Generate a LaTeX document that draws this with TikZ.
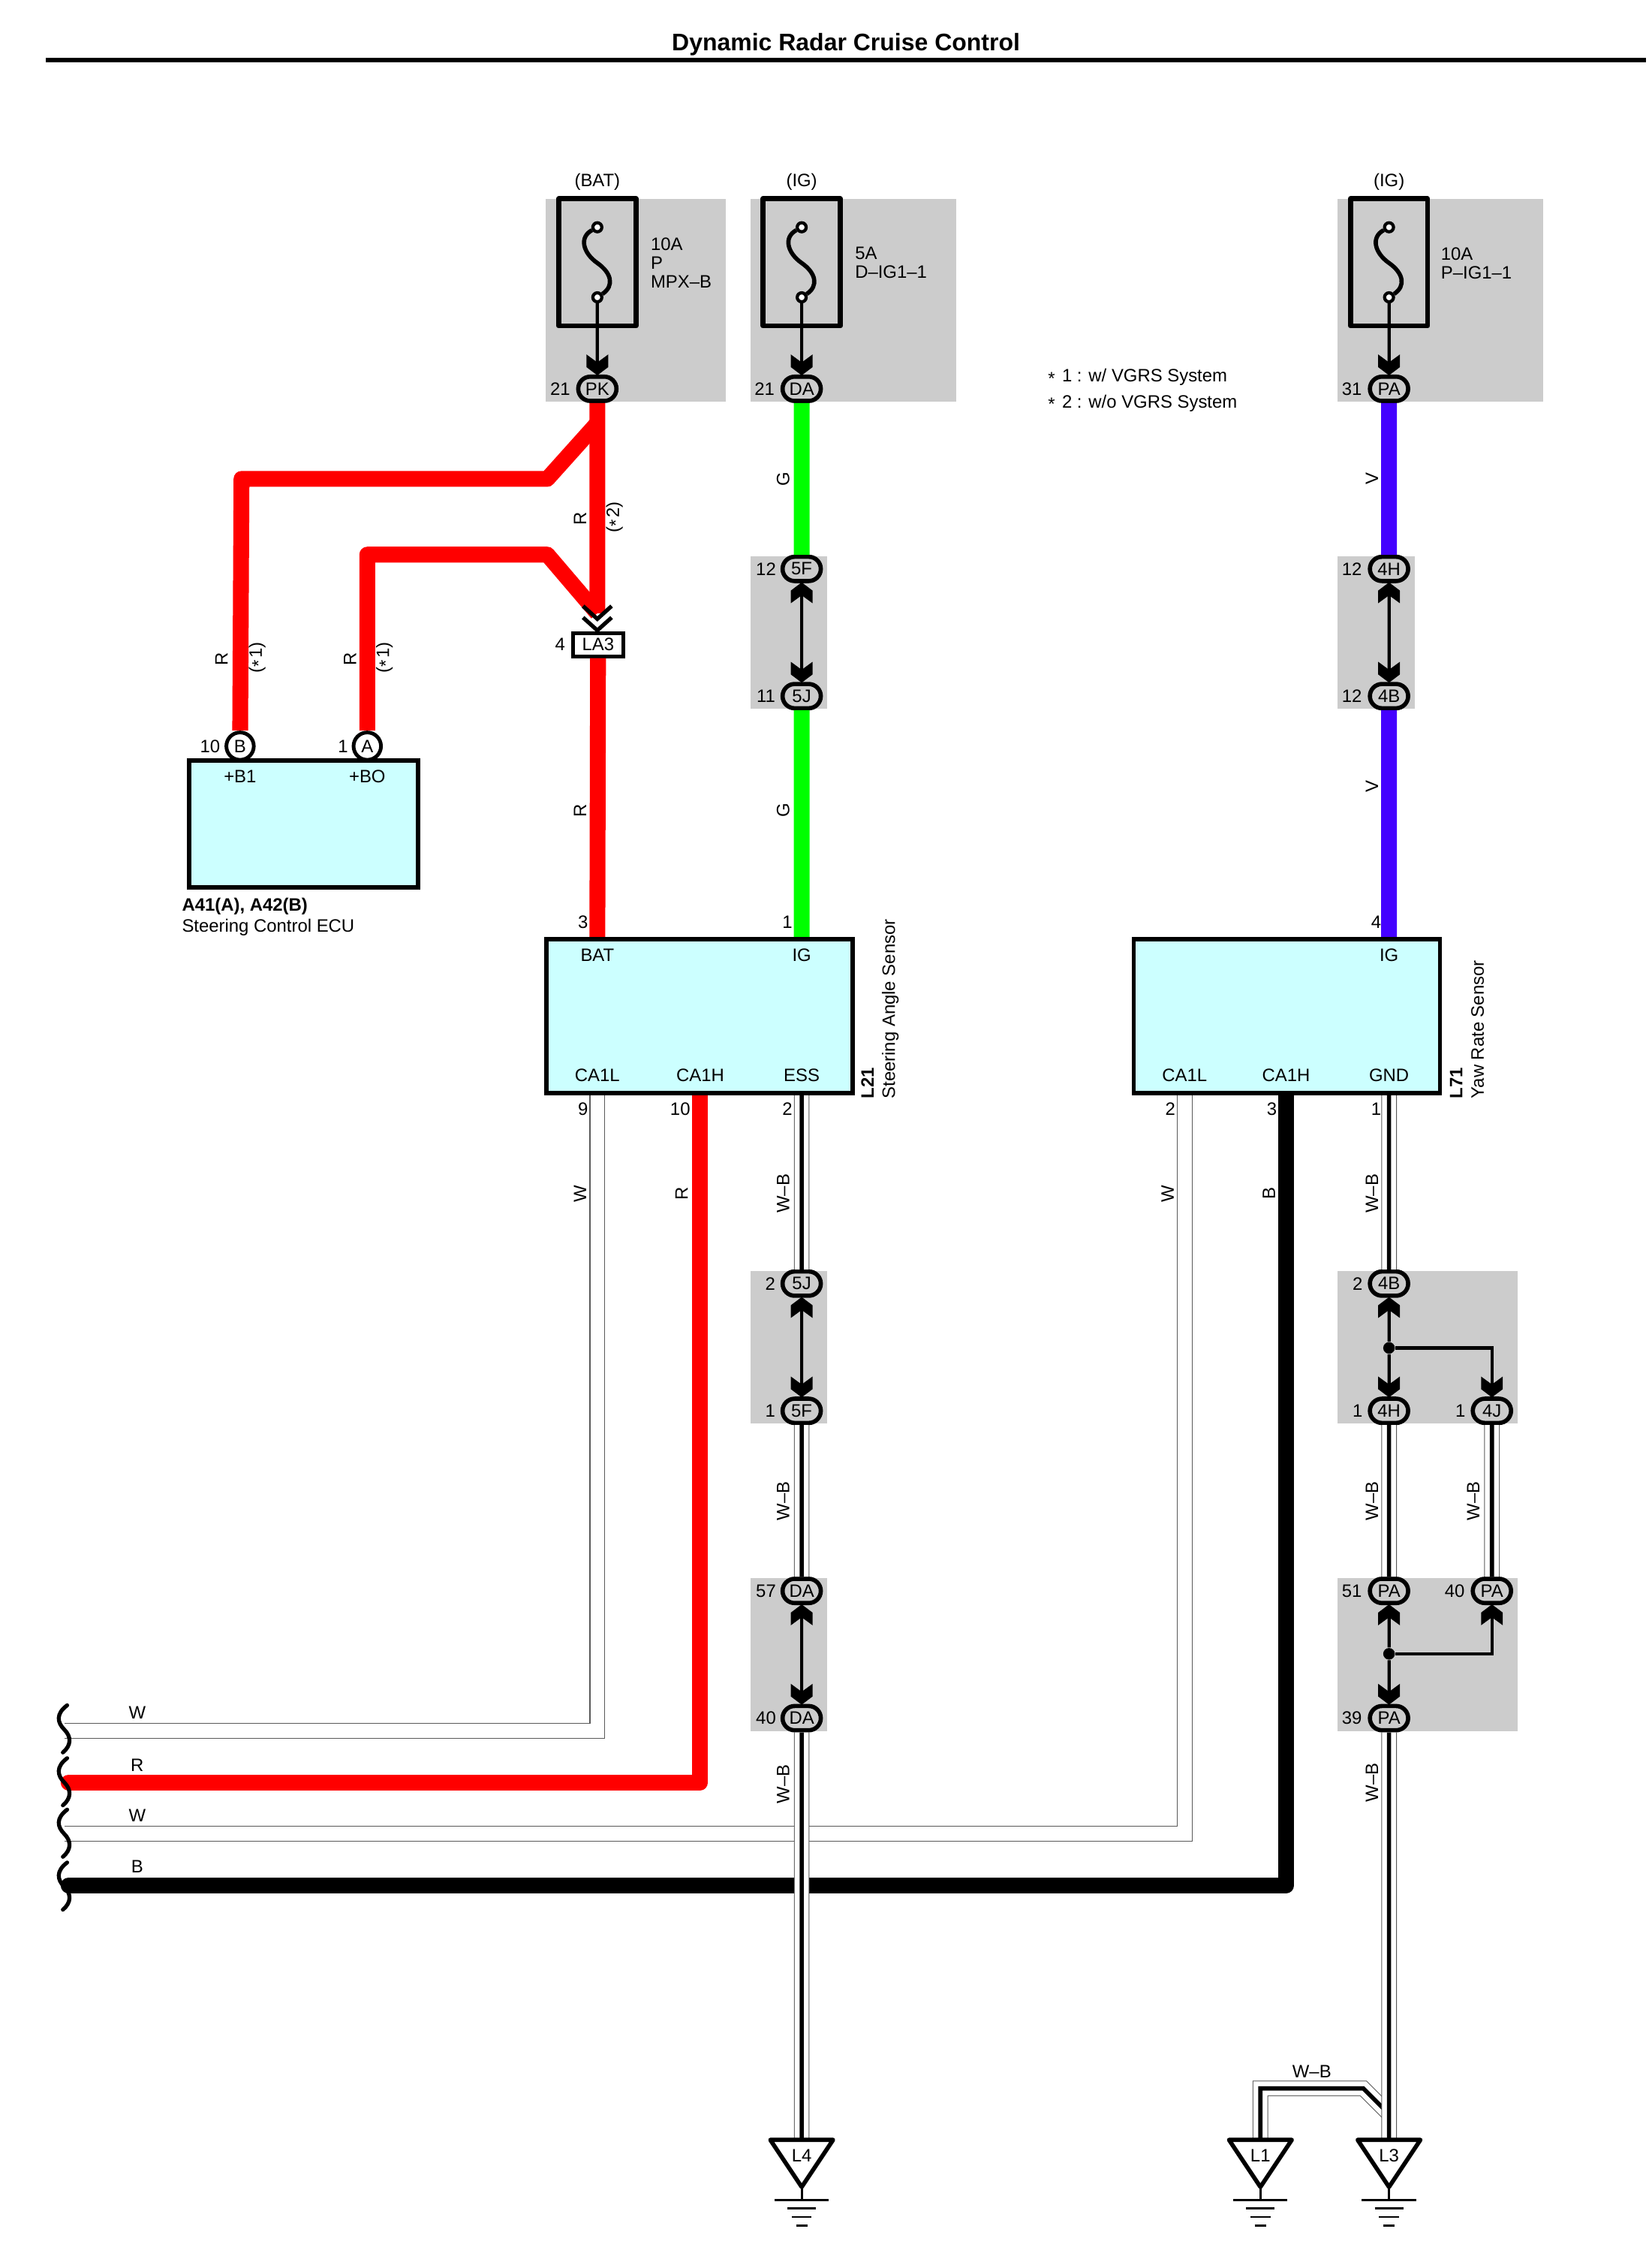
\documentclass[tikz,border=0pt]{standalone}
\usepackage{fontspec}
\setmainfont{Liberation Sans}
\usetikzlibrary{arrows.meta,shapes.misc}
\definecolor{boxgray}{HTML}{CCCCCC}
\definecolor{ecucyan}{HTML}{CCFFFF}
\definecolor{wirered}{HTML}{FF0000}
\definecolor{wiregreen}{HTML}{00FF00}
\definecolor{wireviolet}{HTML}{4400FF}
\pgfdeclarearrow{
  name=Chev,
  setup code={
    \pgfarrowssettipend{0pt}
    \pgfarrowssetlineend{-4pt}
    \pgfarrowssetvisualbackend{-4.4pt}
    \pgfarrowssetbackend{-7.6pt}
  },
  drawing code={
    \pgfpathmoveto{\pgfqpoint{0.3pt}{0pt}}
    \pgfpathlineto{\pgfqpoint{-2.8pt}{4.1pt}}
    \pgfpathlineto{\pgfqpoint{-7.6pt}{4.1pt}}
    \pgfpathlineto{\pgfqpoint{-4.6pt}{0pt}}
    \pgfpathlineto{\pgfqpoint{-7.6pt}{-4.1pt}}
    \pgfpathlineto{\pgfqpoint{-2.8pt}{-4.1pt}}
    \pgfpathclose
    \pgfusepathqfill
  },
}
\tikzset{
  lbl/.style={inner sep=0pt,font=\fontsize{6.8}{7.1}\selectfont},
  wlbl/.style={lbl,rotate=90},
  gbox/.style={fill=boxgray,draw=none},
  fusebox/.style={draw,line width=1.9pt,line join=round},
  fusepin/.style={circle,draw,line width=1.2pt,fill=white,inner sep=0pt,minimum size=3.4pt},
  conn/.style={lbl,rounded rectangle,draw,line width=1.6pt,fill=boxgray,minimum width=14.5pt,minimum height=9.2pt},
  jack/.style={lbl,circle,draw,line width=1.4pt,fill=white,minimum size=10.4pt},
  ecu/.style={draw,line width=1.6pt,fill=ecucyan},
  redwire/.style={draw=wirered,line width=6pt,line join=round},
  greenwire/.style={draw=wiregreen,line width=6pt},
  violetwire/.style={draw=wireviolet,line width=6pt},
  blackwire/.style={draw=black,line width=6pt,line join=round},
  wwire/.style={draw=black!65,line width=5.9pt,postaction={draw=white,line width=5.3pt}},
  wbwire/.style={wwire,postaction={draw=black,line width=1.6pt}},
  pinwire/.style={draw,line width=1.2pt,>=Chev},
  jdot/.style={circle,fill,inner sep=0pt,minimum size=4.4pt},
  barb/.style={draw,line width=1.5pt},
}
\newcommand{\starmark}{\raisebox{-.3ex}{*}\hspace{0.8pt}}
\begin{document}
\begin{tikzpicture}[x=0.1904mm,y=-0.1904mm]
    \useasboundingbox (0,0) rectangle (1156,1567.8);
    \node[inner sep=0pt,font=\fontsize{9.1}{10}\selectfont\bfseries] (title) at (592,31) {Dynamic Radar Cruise Control};
    \draw[line width=1.6pt] (32,42) -- (1152,42);

    \fill[gbox] (382,139) rectangle (508,281);
    \fill[gbox] (525,139) rectangle (669,281);
    \fill[gbox] (936,139) rectangle (1080,281);
    \fill[gbox] (525,389) rectangle (579,496);
    \fill[gbox] (936,389) rectangle (990,496);
    \fill[gbox] (525,889) rectangle (579,996);
    \fill[gbox] (936,889) rectangle (1062,996);
    \fill[gbox] (525,1104) rectangle (579,1211);
    \fill[gbox] (936,1104) rectangle (1062,1211);

    \foreach \fx/\fn in {418/bat,561/dig,972/pig} {
        \draw[fusebox] (\fx-27,139) rectangle (\fx+27,228);
        \node[fusepin] (ft\fn) at (\fx,159) {};
        \node[fusepin] (fb\fn) at (\fx,208) {};
        \draw[line width=1.6pt] (ft\fn) .. controls (\fx-13,166) and (\fx-10,177) .. (\fx,184)
            .. controls (\fx+10,191) and (\fx+12,200) .. (fb\fn);
    }
    \node[lbl] (srcbat) at (418,127) {(BAT)};
    \node[lbl] (srcdig) at (561,127) {(IG)};
    \node[lbl] (srcpig) at (972,127) {(IG)};
    \node[lbl,anchor=west,align=left] (fusebat) at (455,184) {10A\\P\\MPX–B};
    \node[lbl,anchor=west,align=left] (fusedig) at (598,184) {5A\\D–IG1–1};
    \node[lbl,anchor=west,align=left] (fusepig) at (1008,184) {10A\\P–IG1–1};

    \node[lbl,anchor=west] (notea) at (733,264) {\starmark\ 1 : w/ VGRS System};
    \node[lbl,anchor=west] (noteb) at (733,282) {\starmark\ 2 : w/o VGRS System};

    \node[ecu,minimum width=86.9pt,minimum height=48pt,inner sep=0pt] (ecubox) at (212.5,576.5) {};

    \node[conn] (PK) at (418,272) {PK};
    \node[conn] (DAa) at (561,272) {DA};
    \node[conn] (PAa) at (972,272) {PA};
    \node[conn] (Fa) at (561,398) {5F};
    \node[conn] (Ja) at (561,487) {5J};
    \node[conn] (Ha) at (972,398) {4H};
    \node[conn] (Ba) at (972,487) {4B};
    \node[conn] (Jb) at (561,898) {5J};
    \node[conn] (Fb) at (561,987) {5F};
    \node[conn] (DAb) at (561,1113) {DA};
    \node[conn] (DAc) at (561,1202) {DA};
    \node[conn] (Bb) at (972,898) {4B};
    \node[conn] (Hb) at (972,987) {4H};
    \node[conn] (Jc) at (1044,987) {4J};
    \node[conn] (PAb) at (972,1113) {PA};
    \node[conn] (PAc) at (1044,1113) {PA};
    \node[conn] (PAd) at (972,1202) {PA};
    \node[jack] (jB) at (168,522) {B};
    \node[jack] (jA) at (257,522) {A};
    \node[lbl,draw,line width=1.4pt,fill=white,minimum width=19pt,minimum height=8.8pt] (LA) at (418.5,451) {LA3};

    \coordinate (laup) at (418,429);
    \coordinate (batin) at (418,657);
    \coordinate (igin) at (561,657);
    \coordinate (yawin) at (972,657);
    \coordinate (caL) at (418,765);
    \coordinate (caH) at (490,765);
    \coordinate (ess) at (561,765);
    \coordinate (yawL) at (829,765);
    \coordinate (yawH) at (900,765);
    \coordinate (gnd) at (972,765);

    \foreach \gx/\gn in {561/L4,882/L1,972/L3} {
        \coordinate (gt\gn) at (\gx,1497);
    }

    \draw[redwire] (PK) -- (laup);
    \draw[redwire] (418,296) -- (383,335) -- (169,335) -- (jB);
    \draw[redwire] (laup) -- (383,388) -- (257,388) -- (jA);
    \draw[redwire] (LA) -- (batin);
    \draw[greenwire] (DAa) -- (Fa);
    \draw[greenwire] (Ja) -- (igin);
    \draw[violetwire] (PAa) -- (Ha);
    \draw[violetwire] (Ba) -- (yawin);

    \draw[wbwire] (ess) -- (Jb);
    \draw[wbwire] (Fb) -- (DAb);
    \draw[wbwire] (gnd) -- (Bb);
    \draw[wbwire] (Hb) -- (PAb);
    \draw[wbwire] (Jc) -- (PAc);
    \draw[wwire] (caL) -- (418,1211) -- (45,1211);
    \draw[wwire] (yawL) -- (829,1283) -- (45,1283);
    \draw[redwire,line cap=round] (caH) -- (490,1247) -- (48,1247);
    \draw[blackwire,line cap=round] (yawH) -- (900,1319) -- (48,1319);
    \draw[wbwire] (DAc) -- (gtL4);
    \draw[wbwire] (gtL1) -- (882,1461) -- (954,1461) -- (972,1479);
    \draw[wbwire] (PAd) -- (gtL3);

    \node[ecu,minimum width=116pt,minimum height=58.3pt,inner sep=0pt] (angbox) at (489.5,711) {};
    \node[ecu,minimum width=116pt,minimum height=58.3pt,inner sep=0pt] (yawbox) at (900.5,711) {};

    \draw[pinwire,->] (fbbat) -- (PK);
    \draw[pinwire,->] (fbdig) -- (DAa);
    \draw[pinwire,->] (fbpig) -- (PAa);
    \draw[pinwire,<->] (Fa) -- (Ja);
    \draw[pinwire,<->] (Ha) -- (Ba);
    \draw[pinwire,<->] (Jb) -- (Fb);
    \draw[pinwire,<->] (DAb) -- (DAc);
    \node[jdot] (juna) at (972,943) {};
    \node[jdot] (junb) at (972,1157) {};
    \draw[pinwire,->] (juna) -- (Bb);
    \draw[pinwire,->] (juna) -- (Hb);
    \draw[pinwire,->] (juna) -| (Jc);
    \draw[pinwire,->] (junb) -- (PAb);
    \draw[pinwire,->] (junb) -- (PAd);
    \draw[pinwire,->] (junb) -| (PAc);

    \draw[barb] (408,424) -- (418,433) -- (428,424);
    \draw[barb] (408,432) -- (418,441) -- (428,432);

    \foreach \gx/\gn in {561/L4,882/L1,972/L3} {
        \draw[line width=1.6pt,line join=round,fill=white] (\gx-22,1497) -- (\gx+22,1497) -- (\gx,1530) -- cycle;
        \node[lbl] (\gn) at (\gx,1508) {\gn};
        \draw[line width=0.8pt] (\gx,1530) -- (\gx,1539);
        \draw[line width=0.8pt] (\gx-19,1539) -- (\gx+19,1539);
        \draw[line width=0.8pt] (\gx-10,1545) -- (\gx+10,1545);
        \draw[line width=0.8pt] (\gx-7,1551) -- (\gx+7,1551);
        \draw[line width=0.8pt] (\gx-4,1557) -- (\gx+4,1557);
    }

    \foreach \by in {1193,1230,1266,1303} {
        \draw[line width=1.5pt,line cap=round] (47,\by) .. controls (39,\by+6) and (40,\by+12) .. (45,\by+17)
            .. controls (50,\by+22) and (50,\by+28) .. (44,\by+33);
    }

    \node[lbl] (nPK) at (392,272) {21};
    \node[lbl] (nDAa) at (535,272) {21};
    \node[lbl] (nPAa) at (946,272) {31};
    \node[lbl] (nFa) at (536,398) {12};
    \node[lbl] (nJa) at (536,487) {11};
    \node[lbl] (nHa) at (946,398) {12};
    \node[lbl] (nBa) at (946,487) {12};
    \node[lbl] (nLA) at (392,451) {4};
    \node[lbl] (njB) at (147,522) {10};
    \node[lbl] (njA) at (240,522) {1};
    \node[lbl] (nbat) at (408,645) {3};
    \node[lbl] (nig) at (551,645) {1};
    \node[lbl] (nyig) at (963,645) {4};
    \node[lbl] (ncaL) at (408,776) {9};
    \node[lbl] (ncaH) at (476,776) {10};
    \node[lbl] (ness) at (551,776) {2};
    \node[lbl] (nyL) at (819,776) {2};
    \node[lbl] (nyH) at (890,776) {3};
    \node[lbl] (ngnd) at (963,776) {1};
    \node[lbl] (nJb) at (539,898) {2};
    \node[lbl] (nFb) at (539,987) {1};
    \node[lbl] (nDAb) at (536,1113) {57};
    \node[lbl] (nDAc) at (536,1202) {40};
    \node[lbl] (nBb) at (950,898) {2};
    \node[lbl] (nHb) at (950,987) {1};
    \node[lbl] (nJc) at (1022,987) {1};
    \node[lbl] (nPAb) at (946,1113) {51};
    \node[lbl] (nPAc) at (1018,1113) {40};
    \node[lbl] (nPAd) at (946,1202) {39};

    \node[lbl] (tB) at (168,543) {+B1};
    \node[lbl] (tA) at (257,543) {+BO};
    \node[lbl] (tbat) at (418,668) {BAT};
    \node[lbl] (tig) at (561,668) {IG};
    \node[lbl] (tcaL) at (418,752) {CA1L};
    \node[lbl] (tcaH) at (490,752) {CA1H};
    \node[lbl] (tess) at (561,752) {ESS};
    \node[lbl] (tyig) at (972,668) {IG};
    \node[lbl] (tyL) at (829,752) {CA1L};
    \node[lbl] (tyH) at (900,752) {CA1H};
    \node[lbl] (tgnd) at (972,752) {GND};
    \node[lbl,anchor=west,font=\fontsize{6.8}{7.1}\selectfont\bfseries] (ecuid) at (127,634) {A41(A), A42(B)};
    \node[lbl,anchor=west] (ecuname) at (127,649) {Steering Control ECU};
    \node[wlbl,anchor=west,font=\fontsize{6.8}{7.1}\selectfont\bfseries] (angid) at (607,769) {L21};
    \node[wlbl,anchor=west] (angname) at (623,769) {Steering Angle Sensor};
    \node[wlbl,anchor=west,font=\fontsize{6.8}{7.1}\selectfont\bfseries] (yawid) at (1019,769) {L71};
    \node[wlbl,anchor=west] (yawname) at (1034,769) {Yaw Rate Sensor};

    \node[wlbl] (wR1) at (155,461) {R};
    \node[wlbl] (wS1) at (180,460) {(\starmark 1)};
    \node[wlbl] (wR2) at (245,461) {R};
    \node[wlbl] (wS2) at (269,460) {(\starmark 1)};
    \node[wlbl] (wR3) at (406,363) {R};
    \node[wlbl] (wS3) at (430,362) {(\starmark 2)};
    \node[wlbl] (wR4) at (406,567) {R};
    \node[wlbl] (wG1) at (548,335) {G};
    \node[wlbl] (wG2) at (548,567) {G};
    \node[wlbl] (wV1) at (960,335) {V};
    \node[wlbl] (wV2) at (960,550) {V};
    \node[wlbl] (wW1) at (406,835) {W};
    \node[wlbl] (wR5) at (477,835) {R};
    \node[wlbl] (wWB1) at (548,835) {W–B};
    \node[wlbl] (wW2) at (817,835) {W};
    \node[wlbl] (wB1) at (888,835) {B};
    \node[wlbl] (wWB2) at (960,835) {W–B};
    \node[wlbl] (wWB3) at (548,1050) {W–B};
    \node[wlbl] (wWB4) at (960,1050) {W–B};
    \node[wlbl] (wWB5) at (1031,1050) {W–B};
    \node[wlbl] (wWB6) at (548,1248) {W–B};
    \node[wlbl] (wWB7) at (960,1247) {W–B};
    \node[lbl] (wW3) at (96,1198) {W};
    \node[lbl] (wR6) at (96,1235) {R};
    \node[lbl] (wW4) at (96,1270) {W};
    \node[lbl] (wB2) at (96,1306) {B};
    \node[lbl] (wWB8) at (918,1449) {W–B};
\end{tikzpicture}
\end{document}
